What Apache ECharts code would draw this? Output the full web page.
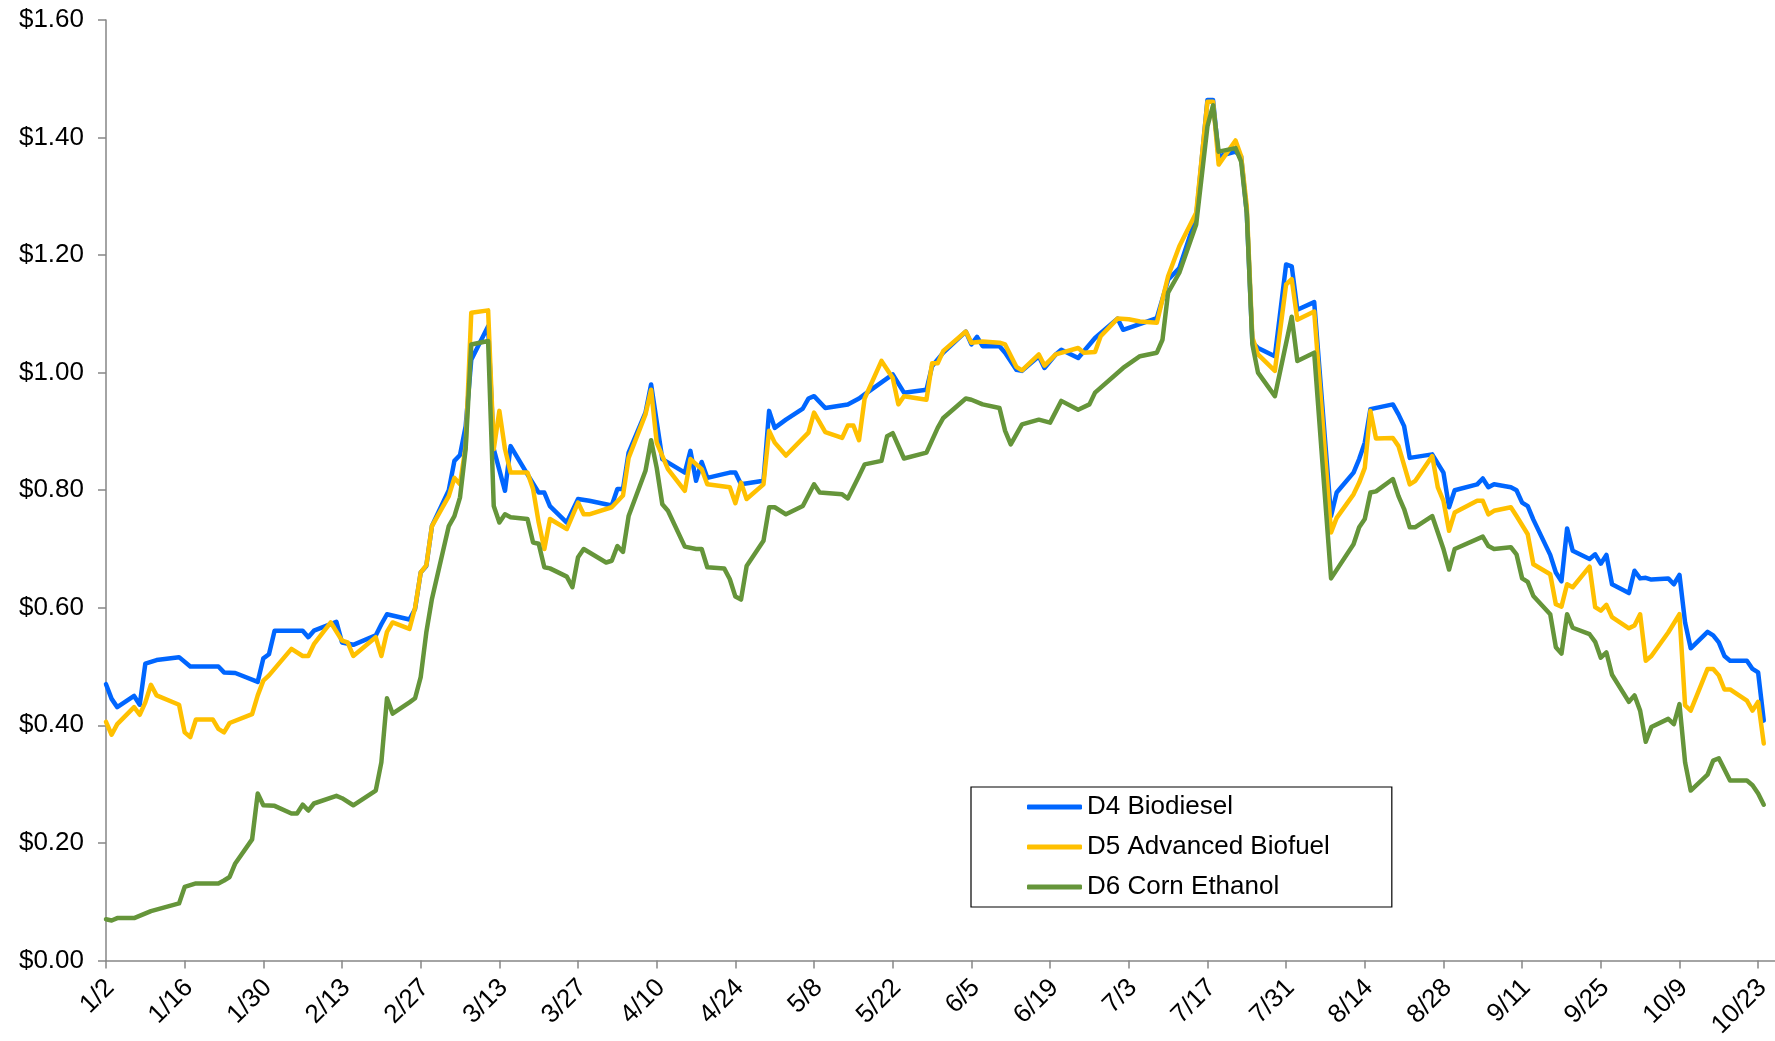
<!DOCTYPE html>
<html><head><meta charset="utf-8">
<script src="https://cdn.jsdelivr.net/npm/echarts@6/dist/echarts.min.js"></script>
<style>html,body{margin:0;padding:0;background:#fff}#chart{width:1775px;height:1041px}</style>
</head><body><div id="chart"></div>
<script>
const xTickLabels = ['1/2','1/16','1/30','2/13','2/27','3/13','3/27','4/10','4/24','5/8','5/22','6/5','6/19','7/3','7/17','7/31','8/14','8/28','9/11','9/25','10/9','10/23'];
const seriesNames = ['D4 Biodiesel','D5 Advanced Biofuel','D6 Corn Ethanol'];

const d4Points = [['1/2',0.470],['1/3',0.445],['1/4',0.431],['1/7',0.450],['1/8',0.435],['1/9',0.505],['1/11',0.511],['1/15',0.516],['1/17',0.500],['1/22',0.500],['1/23',0.490],['1/25',0.489],['1/29',0.474],['1/30',0.514],['1/31',0.521],['2/1',0.561],['2/6',0.561],['2/7',0.550],['2/8',0.561],['2/12',0.576],['2/13',0.541],['2/15',0.537],['2/19',0.553],['2/20',0.572],['2/21',0.589],['2/25',0.580],['2/26',0.598],['2/27',0.660],['2/28',0.671],['3/1',0.739],['3/4',0.800],['3/5',0.850],['3/6',0.860],['3/7',0.909],['3/8',1.022],['3/11',1.079],['3/12',0.870],['3/14',0.799],['3/15',0.875],['3/18',0.827],['3/20',0.796],['3/21',0.796],['3/22',0.773],['3/25',0.745],['3/27',0.785],['3/29',0.782],['4/2',0.774],['4/3',0.802],['4/4',0.802],['4/5',0.864],['4/8',0.932],['4/9',0.980],['4/11',0.853],['4/15',0.830],['4/16',0.867],['4/17',0.816],['4/18',0.848],['4/19',0.821],['4/23',0.830],['4/24',0.830],['4/25',0.810],['4/29',0.816],['4/30',0.935],['5/1',0.906],['5/3',0.920],['5/6',0.939],['5/7',0.956],['5/8',0.960],['5/10',0.940],['5/14',0.946],['5/16',0.956],['5/17',0.963],['5/22',0.997],['5/24',0.966],['5/28',0.971],['5/29',1.011],['5/31',1.034],['6/4',1.070],['6/5',1.048],['6/6',1.061],['6/7',1.045],['6/10',1.045],['6/11',1.034],['6/13',1.005],['6/14',1.003],['6/17',1.028],['6/18',1.008],['6/20',1.031],['6/21',1.039],['6/24',1.025],['6/27',1.059],['7/1',1.092],['7/2',1.073],['7/8',1.093],['7/10',1.158],['7/12',1.178],['7/15',1.265],['7/17',1.464],['7/18',1.464],['7/19',1.368],['7/22',1.376],['7/23',1.368],['7/24',1.272],['7/25',1.051],['7/26',1.042],['7/29',1.028],['7/31',1.184],['8/1',1.181],['8/2',1.107],['8/5',1.120],['8/8',0.756],['8/9',0.796],['8/12',0.830],['8/13',0.853],['8/14',0.881],['8/15',0.938],['8/19',0.946],['8/20',0.929],['8/21',0.909],['8/22',0.855],['8/26',0.861],['8/28',0.830],['8/29',0.771],['8/30',0.800],['9/3',0.810],['9/4',0.820],['9/5',0.805],['9/6',0.810],['9/9',0.805],['9/10',0.800],['9/11',0.779],['9/12',0.773],['9/13',0.750],['9/16',0.690],['9/17',0.660],['9/18',0.645],['9/19',0.735],['9/20',0.697],['9/23',0.683],['9/24',0.691],['9/25',0.675],['9/26',0.690],['9/27',0.640],['9/30',0.625],['10/1',0.663],['10/2',0.650],['10/3',0.651],['10/4',0.648],['10/7',0.650],['10/8',0.640],['10/9',0.656],['10/10',0.575],['10/11',0.531],['10/14',0.559],['10/15',0.553],['10/16',0.541],['10/17',0.518],['10/18',0.510],['10/21',0.510],['10/22',0.496],['10/23',0.490],['10/24',0.408]];

const d5Points = [['1/2',0.406],['1/3',0.384],['1/4',0.402],['1/7',0.431],['1/8',0.418],['1/9',0.439],['1/10',0.469],['1/11',0.451],['1/15',0.435],['1/16',0.388],['1/17',0.380],['1/18',0.410],['1/21',0.410],['1/22',0.394],['1/23',0.388],['1/24',0.404],['1/28',0.419],['1/29',0.451],['1/30',0.476],['1/31',0.485],['2/4',0.530],['2/6',0.518],['2/7',0.518],['2/8',0.538],['2/11',0.575],['2/13',0.544],['2/14',0.541],['2/15',0.518],['2/19',0.550],['2/20',0.518],['2/21',0.559],['2/22',0.575],['2/25',0.564],['2/26',0.600],['2/27',0.660],['2/28',0.672],['3/1',0.739],['3/4',0.790],['3/5',0.821],['3/6',0.810],['3/7',0.875],['3/8',1.102],['3/11',1.106],['3/12',0.870],['3/13',0.935],['3/14',0.870],['3/15',0.830],['3/18',0.830],['3/19',0.802],['3/20',0.745],['3/21',0.700],['3/22',0.751],['3/25',0.734],['3/27',0.779],['3/28',0.759],['3/29',0.759],['4/2',0.771],['4/4',0.791],['4/5',0.855],['4/8',0.929],['4/9',0.971],['4/10',0.881],['4/12',0.836],['4/15',0.799],['4/16',0.853],['4/18',0.836],['4/19',0.810],['4/23',0.805],['4/24',0.778],['4/25',0.813],['4/26',0.785],['4/29',0.810],['4/30',0.901],['5/1',0.881],['5/3',0.859],['5/7',0.898],['5/8',0.932],['5/10',0.899],['5/13',0.889],['5/14',0.910],['5/15',0.910],['5/16',0.885],['5/17',0.956],['5/20',1.020],['5/22',0.991],['5/23',0.946],['5/24',0.960],['5/28',0.954],['5/29',1.016],['5/30',1.016],['5/31',1.037],['6/4',1.070],['6/5',1.051],['6/7',1.053],['6/10',1.051],['6/11',1.048],['6/13',1.010],['6/14',1.004],['6/17',1.031],['6/18',1.012],['6/20',1.031],['6/24',1.042],['6/25',1.034],['6/27',1.035],['6/28',1.062],['7/1',1.092],['7/3',1.091],['7/5',1.087],['7/8',1.085],['7/10',1.164],['7/12',1.215],['7/15',1.272],['7/17',1.461],['7/18',1.461],['7/19',1.354],['7/22',1.395],['7/23',1.368],['7/24',1.283],['7/25',1.060],['7/26',1.031],['7/29',1.003],['7/31',1.150],['8/1',1.159],['8/2',1.090],['8/5',1.104],['8/8',0.728],['8/9',0.753],['8/12',0.793],['8/13',0.813],['8/14',0.838],['8/15',0.935],['8/16',0.888],['8/19',0.889],['8/20',0.875],['8/22',0.810],['8/23',0.816],['8/26',0.858],['8/27',0.805],['8/28',0.782],['8/29',0.731],['8/30',0.762],['9/3',0.782],['9/4',0.782],['9/5',0.759],['9/6',0.765],['9/9',0.771],['9/10',0.756],['9/12',0.725],['9/13',0.674],['9/16',0.657],['9/17',0.606],['9/18',0.602],['9/19',0.640],['9/20',0.635],['9/23',0.670],['9/24',0.601],['9/25',0.595],['9/26',0.605],['9/27',0.584],['9/30',0.565],['10/1',0.570],['10/2',0.589],['10/3',0.510],['10/4',0.518],['10/7',0.558],['10/9',0.589],['10/10',0.434],['10/11',0.425],['10/14',0.496],['10/15',0.496],['10/16',0.485],['10/17',0.461],['10/18',0.461],['10/21',0.442],['10/22',0.425],['10/23',0.440],['10/24',0.369]];

const d6Points = [['1/2',0.070],['1/3',0.068],['1/4',0.072],['1/7',0.072],['1/10',0.084],['1/15',0.097],['1/16',0.125],['1/18',0.131],['1/22',0.131],['1/23',0.136],['1/24',0.142],['1/25',0.165],['1/28',0.206],['1/29',0.284],['1/30',0.264],['2/1',0.263],['2/4',0.250],['2/5',0.250],['2/6',0.265],['2/7',0.255],['2/8',0.267],['2/12',0.280],['2/13',0.276],['2/15',0.264],['2/19',0.289],['2/20',0.337],['2/21',0.446],['2/22',0.420],['2/25',0.439],['2/26',0.446],['2/27',0.482],['2/28',0.558],['3/1',0.615],['3/4',0.739],['3/5',0.756],['3/6',0.788],['3/7',0.870],['3/8',1.048],['3/11',1.054],['3/12',0.773],['3/13',0.745],['3/14',0.759],['3/15',0.754],['3/18',0.751],['3/19',0.711],['3/20',0.709],['3/21',0.669],['3/22',0.667],['3/25',0.653],['3/26',0.635],['3/27',0.686],['3/28',0.700],['4/1',0.677],['4/2',0.680],['4/3',0.705],['4/4',0.695],['4/5',0.756],['4/8',0.833],['4/9',0.885],['4/10',0.838],['4/11',0.776],['4/12',0.765],['4/15',0.704],['4/17',0.700],['4/18',0.700],['4/19',0.669],['4/22',0.667],['4/23',0.649],['4/24',0.619],['4/25',0.614],['4/26',0.671],['4/29',0.714],['4/30',0.771],['5/1',0.771],['5/3',0.759],['5/6',0.773],['5/8',0.810],['5/9',0.796],['5/13',0.793],['5/14',0.786],['5/16',0.824],['5/17',0.844],['5/20',0.850],['5/21',0.892],['5/22',0.897],['5/24',0.854],['5/28',0.864],['5/30',0.906],['5/31',0.923],['6/4',0.956],['6/5',0.954],['6/7',0.946],['6/10',0.940],['6/11',0.901],['6/12',0.878],['6/14',0.912],['6/17',0.920],['6/19',0.915],['6/21',0.952],['6/24',0.937],['6/26',0.946],['6/27',0.966],['7/2',1.008],['7/5',1.028],['7/8',1.034],['7/9',1.056],['7/10',1.136],['7/12',1.170],['7/15',1.252],['7/17',1.419],['7/18',1.455],['7/19',1.376],['7/22',1.382],['7/23',1.359],['7/24',1.272],['7/25',1.048],['7/26',1.000],['7/29',0.960],['8/1',1.095],['8/2',1.020],['8/5',1.034],['8/8',0.650],['8/12',0.708],['8/13',0.737],['8/14',0.751],['8/15',0.796],['8/16',0.798],['8/19',0.819],['8/20',0.790],['8/21',0.768],['8/22',0.737],['8/23',0.737],['8/26',0.756],['8/28',0.700],['8/29',0.665],['8/30',0.700],['9/4',0.721],['9/5',0.705],['9/6',0.700],['9/9',0.703],['9/10',0.691],['9/11',0.650],['9/12',0.644],['9/13',0.620],['9/16',0.589],['9/17',0.533],['9/18',0.522],['9/19',0.589],['9/20',0.566],['9/23',0.555],['9/24',0.542],['9/25',0.515],['9/26',0.524],['9/27',0.486],['9/30',0.440],['10/1',0.451],['10/2',0.425],['10/3',0.372],['10/4',0.397],['10/7',0.411],['10/8',0.402],['10/9',0.436],['10/10',0.337],['10/11',0.289],['10/14',0.316],['10/15',0.340],['10/16',0.344],['10/18',0.306],['10/21',0.306],['10/22',0.298],['10/23',0.284],['10/24',0.265]];

const BASE = Date.UTC(2013, 0, 2);
function dayIndex(s) {
  const p = s.split('/').map(Number);
  return Math.round((Date.UTC(2013, p[0] - 1, p[1]) - BASE) / 86400000);
}
const tickValues = xTickLabels.map(dayIndex);
const labelByDay = {};
xTickLabels.forEach(l => { labelByDay[dayIndex(l)] = l; });
const toData = pts => pts.map(p => [dayIndex(p[0]), p[1]]);

const FONT = "'Liberation Sans', Arial, sans-serif";
const colors = ['#0066FF', '#FFC000', '#65953A'];
const chart = echarts.init(document.getElementById('chart'), null, {renderer: 'canvas'});
chart.setOption({
  animation: false,
  backgroundColor: '#ffffff',
  color: colors,
  textStyle: {fontFamily: FONT},
  grid: {left: 106, right: 0, top: 20, bottom: 79, containLabel: false},
  legend: {
    orient: 'vertical', left: 971, top: 787,
    padding: [7, 62, 7, 56], itemGap: 14,
    itemWidth: 55, itemHeight: 5, icon: 'roundRect',
    borderColor: '#000', borderWidth: 1.2, borderRadius: 0,
    backgroundColor: '#fff',
    textStyle: {fontSize: 26, color: '#000', fontFamily: FONT},
    data: seriesNames
  },
  xAxis: {
    type: 'value', min: 0, max: 297, interval: 14,
    splitLine: {show: false},
    axisLine: {show: true, onZero: false, lineStyle: {color: '#868686', width: 1.5}},
    axisTick: {show: true, length: 8, inside: false, customValues: tickValues, lineStyle: {color: '#868686', width: 1.5}},
    axisLabel: {
      show: true, rotate: 45, margin: 19, fontSize: 26, color: '#000', fontFamily: FONT,
      verticalAlign: 'top', lineHeight: 12,
      customValues: tickValues,
      formatter: v => labelByDay[Math.round(v)] || ''
    }
  },
  yAxis: {
    type: 'value', min: 0, max: 1.6, interval: 0.2,
    splitLine: {show: false},
    axisLine: {show: true, lineStyle: {color: '#868686', width: 1.5}},
    axisTick: {show: true, length: 8, inside: false, lineStyle: {color: '#868686', width: 1.5}},
    axisLabel: {fontSize: 26, color: '#000', margin: 22, fontFamily: FONT,
      formatter: v => '$' + v.toFixed(2)}
  },
  series: [d4Points, d5Points, d6Points].map((pts, i) => ({
    name: seriesNames[i], type: 'line', data: toData(pts),
    showSymbol: false, symbol: 'none', smooth: false,
    lineStyle: {width: 4.5, color: colors[i], cap: 'round', join: 'round'},
    itemStyle: {color: colors[i]},
    emphasis: {disabled: true}
  }))
});
</script></body></html>
